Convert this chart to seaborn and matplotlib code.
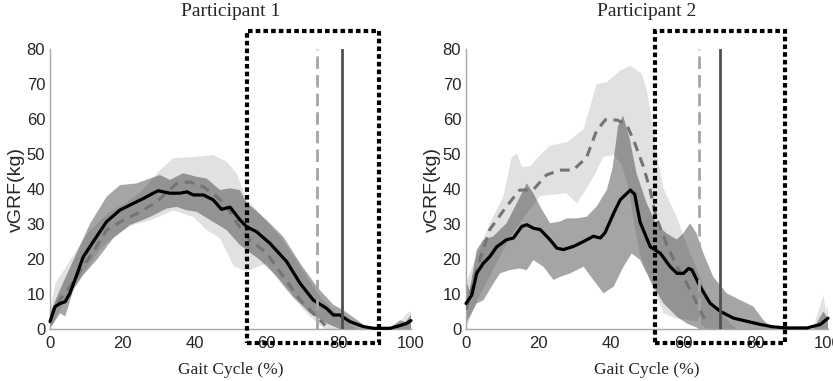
import numpy as np
import matplotlib
matplotlib.use("Agg")
import matplotlib.pyplot as plt
import matplotlib.patches as mpatches
import seaborn as sns

# ---- Participant 1 ----
p1_mean_x = [0, 1.4, 2.8, 4.2, 5.5, 7.4, 9.2, 12, 15.7, 19.4, 23.1, 25.9, 28.6, 30, 33.2, 36, 37.9,
             39.7, 42.5, 45.2, 47.5, 49.9, 52.6, 54.5, 57.2, 60.9, 65.6, 69.3, 72.9, 76.6, 78.5,
             80.3, 83.1, 86.8, 89.6, 94.2, 97, 98.8, 100]
p1_mean_y = [2.1, 6.4, 7.3, 7.8, 10.2, 15.4, 20.6, 25, 30.7, 34, 35.9, 37.3, 38.8, 39.5, 38.8, 38.8, 39.2,
             38.3, 38.3, 36.9, 34.2, 34.8, 31.2, 29.2, 27.8, 24.5, 19.2, 13, 8.3, 5.9, 4.0,
             4.0, 2.1, 0.7, 0.2, 0.2, 1.0, 1.6, 2.4]
p1_ref_x = [0, 2.8, 5.5, 9.2, 12, 15.7, 20.3, 24.9, 29.5, 35.1, 38.8, 42.5, 46, 49, 51, 53, 55.4,
            60, 64.6, 69.3, 72.9, 75.7, 76.2]
p1_ref_y = [3, 8.5, 12, 18, 22, 28.3, 31.1, 33.4, 36.3, 41.6, 42, 40.6, 38, 35, 31.5, 28.5, 25.4,
            21.7, 15, 8.3, 4.5, 1.6, 1.0]
p1_sd_hi_x = [0, 2.8, 6.5, 11.1, 15.7, 19.4, 24, 27.7, 30.5, 33.2, 36.9, 40.6, 43.4, 47.1, 49.9,
              52.6, 54.5, 56.3, 60, 64.6, 69.3, 73.9, 78.5, 81.2, 85, 87.7, 89, 94, 97, 98.5, 100]
p1_sd_hi_y = [4.5, 11.3, 19.7, 30.1, 37.8, 41.1, 41.6, 43, 44, 42.6, 44.5, 43.5, 43, 39.7, 40.2,
              39.7, 36, 34.5, 31.1, 26.4, 18.8, 12.1, 6.9, 5.4, 2.6, 0.6, 0.2, 0.3, 2.5, 2, 4]
p1_sd_lo_x = [0, 2.8, 4.2, 6.5, 9.2, 12.9, 17.5, 22.2, 27.7, 32.3, 35.1, 37.9, 40.6, 45.2, 48.9,
              52.6, 58.2, 62.8, 67.4, 72, 76.6, 80.3, 100]
p1_sd_lo_y = [0, 4.5, 3.6, 11.2, 15.4, 19.7, 25.9, 29.7, 32, 34.4, 34.9, 33.9, 33.5, 30.6, 28.3,
              24, 19.7, 15, 9.2, 4.5, 1.6, 0, 0]
p1_ref_hi_x = [0, 1.5, 4, 7, 11, 16, 21, 25, 28, 30.5, 34.2, 40.6, 45.2, 48.9, 51.7, 54.5, 57.2,
               64.6, 69.3, 74.8, 80.3, 83, 85, 94, 97, 99, 100]
p1_ref_hi_y = [5, 13, 17, 22, 28, 33, 36, 39, 42.5, 45.4, 48.8, 49.2, 49.7, 47.8, 44.5, 36.9, 34.1,
               25.4, 17.9, 9.2, 3.5, 1.3, 0, 0, 2, 4.5, 5]
p1_ref_lo_x = [0, 3, 6, 10, 14, 18.5, 22.2, 27.7, 34.2, 39.7, 43.4, 47.1, 49.5, 50.8, 54.5, 56,
               60, 64.6, 71.1, 74.8, 76, 100]
p1_ref_lo_y = [0, 6, 11, 17, 23, 27, 29.5, 31, 33.9, 32, 28.3, 25.9, 21, 18, 16.4, 17,
               18.8, 12.1, 4.5, 1.1, 0, 0]

# ---- Participant 2 ----
p2_mean_x = [0, 1.6, 2.95, 4.8, 6.6, 8.5, 11.2, 13.1, 15.4, 16.8, 18.6, 20.5, 23.2, 25.1, 26.9,
             29.7, 32.5, 35.2, 37.1, 38.4, 40.8, 42.6, 45.4, 46.6, 48.1, 50.9, 53.7, 56.4, 58.3,
             60.1, 61.5, 62.4, 64.7, 67.4, 70.3, 73.9, 77.6, 81.3, 84.9, 88.6, 94.2, 97.9, 100]
p2_mean_y = [7.3, 9.7, 15.9, 18.8, 20.7, 23.5, 25.5, 26, 29.3, 29.8, 28.8, 28.4, 25.5, 23.1, 22.7,
             23.6, 25, 26.5, 26, 27.5, 33.1, 36.9, 39.7, 38.5, 30.5, 23.5, 21.6, 17.8, 15.9,
             15.9, 17.3, 16.9, 12.1, 7.4, 5, 3.1, 2.2, 1.3, 0.6, 0.3, 0.3, 1.3, 3.1]
p2_ref_x = [0, 3.2, 6.5, 11.1, 14.8, 18.5, 22.2, 25.9, 29.6, 33.3, 36, 38.5, 41.7, 44.3, 46.3,
            49, 50.8, 52.5, 55.5, 58.3, 61, 63.8, 65.6, 66.6]
p2_ref_y = [5.4, 17.8, 28.3, 34.9, 39.7, 39.7, 44, 45.4, 45.4, 49, 56.5, 59.8, 59.7, 58.5, 54,
            46.4, 40, 32, 24, 17.8, 13, 7.3, 3.5, 1.6]
p2_sd_hi_x = [0, 1, 2.95, 4.8, 7.6, 9.4, 11.2, 14, 16.8, 18.6, 20.5, 23.2, 26, 27.8, 30.6, 33.4,
              36.1, 38.9, 40.5, 42, 43.4, 45.3, 47.1, 49.9, 52.6, 55.4, 58.2, 60, 61.9, 63.7,
              65.6, 68.3, 72, 75.7, 79.4, 82.1, 84.9, 96, 98.7, 100]
p2_sd_hi_y = [14, 11, 22.6, 25.5, 26.5, 28.4, 30.2, 35.9, 41.6, 38.8, 35, 30.2, 30.7, 31.6, 31.6, 32.1,
              35, 39.7, 46, 58, 61, 54, 44.5, 36, 30, 27.3, 25.6, 27.3, 30.2, 27.3,
              21.6, 14.9, 10.2, 8.3, 6.4, 2.6, 0, 0, 5, 3]
p2_sd_lo_x = [0, 2.95, 4.8, 7.6, 9.4, 12, 14.8, 16.8, 18.6, 21.4, 24.2, 26, 28.8, 32.5, 35.2, 38,
              40.8, 43.5, 45.8, 48.1, 51.8, 54.6, 58.3, 61, 64.7, 100]
p2_sd_lo_y = [1.6, 7.3, 8.2, 13, 15.9, 16.8, 17.3, 16.8, 19.7, 17.8, 14, 14.9, 15.9, 17.8, 14, 10.2,
              12.1, 17.8, 21.6, 19.7, 12.1, 7.3, 3.5, 1.6, 0, 0]
p2_ref_hi_x = [0, 3.2, 6.6, 10.3, 12.6, 14, 15.4, 17.7, 20, 23.2, 27.8, 32.5, 36.1, 38.9, 42.6,
               45.4, 48.5, 50, 51, 52.7, 54.6, 58.2, 61, 63.8, 66.6, 70.3, 73, 75, 96, 98.7, 99.5, 100]
p2_ref_hi_y = [13, 21.6, 30.2, 37.8, 49, 50.2, 46.4, 46.4, 49.2, 52.4, 53.3, 57.1, 70, 70.5, 73.8,
               75.2, 73, 68, 62, 50, 40, 32, 24, 17, 9.5, 4.5, 1.6, 0, 0.5, 9.5, 5, 7]
p2_ref_lo_x = [0, 3, 6, 9, 12, 16, 20.5, 23.2, 27.8, 30.6, 32.5, 35.2, 38, 40.8, 43, 45, 46.5, 48,
               51.5, 54.6, 58, 63.8, 66.6, 100]
p2_ref_lo_y = [0, 8, 14, 20, 26, 32, 38, 38.3, 38.8, 35.9, 38.8, 43.5, 49.2, 49.7, 47, 40, 30, 21.6,
               12, 4.5, 3, 2.2, 0, 0]

titles = ["Participant 1", "Participant 2"]
dashed_event = [73.9, 64.5]
solid_event = [81.0, 70.2]
box_left = [54.5, 52.2]
box_right = [91.1, 88.0]
box_bottom = -4.0
box_top = 85.2
x_ticks = [0, 20, 40, 60, 80, 100]
y_ticks = [0, 10, 20, 30, 40, 50, 60, 70, 80]

panels = [
    dict(mx=p1_mean_x, my=p1_mean_y, rx=p1_ref_x, ry=p1_ref_y,
         shx=p1_sd_hi_x, shy=p1_sd_hi_y, slx=p1_sd_lo_x, sly=p1_sd_lo_y,
         rhx=p1_ref_hi_x, rhy=p1_ref_hi_y, rlx=p1_ref_lo_x, rly=p1_ref_lo_y),
    dict(mx=p2_mean_x, my=p2_mean_y, rx=p2_ref_x, ry=p2_ref_y,
         shx=p2_sd_hi_x, shy=p2_sd_hi_y, slx=p2_sd_lo_x, sly=p2_sd_lo_y,
         rhx=p2_ref_hi_x, rhy=p2_ref_hi_y, rlx=p2_ref_lo_x, rly=p2_ref_lo_y),
]

sns.set_theme(style="white")
plt.rcParams["font.family"] = ["Liberation Sans", "DejaVu Sans"]

fig = plt.figure(figsize=(8.33, 3.81), dpi=100)
axes = [fig.add_axes([50 / 833, 52 / 381, 361 / 833, 280 / 381]),
        fig.add_axes([466 / 833, 52 / 381, 362 / 833, 280 / 381])]

for i, ax in enumerate(axes):
    d = panels[i]
    # reference band (light) then participant band (dark)
    ax.fill(np.r_[d["rhx"], d["rlx"][::-1]], np.r_[d["rhy"], d["rly"][::-1]],
            color="#e1e1e1", lw=0, zorder=1)
    ax.fill(np.r_[d["shx"], d["slx"][::-1]], np.r_[d["shy"], d["sly"][::-1]],
            color="#1e1e1e", alpha=0.4, lw=0, zorder=2)

    sns.lineplot(x=d["rx"], y=d["ry"], ax=ax, color="#747474", linewidth=2.2,
                 linestyle=(0, (3.2, 2.2)), estimator=None, sort=False, zorder=3)
    sns.lineplot(x=d["mx"], y=d["my"], ax=ax, color="black", linewidth=2.3,
                 estimator=None, sort=False, zorder=4, clip_on=False)

    ax.plot([dashed_event[i]] * 2, [0, 80], color="#a5a5a5", lw=2.0,
            linestyle=(0, (4.5, 2.2)), zorder=5)
    ax.plot([solid_event[i]] * 2, [0, 80], color="#505050", lw=2.0, zorder=5)

    rect = mpatches.Rectangle((box_left[i], box_bottom), box_right[i] - box_left[i],
                              box_top - box_bottom, fill=False, edgecolor="black",
                              lw=3.0, linestyle=(0, (1.1, 0.75)), clip_on=False, zorder=6)
    ax.add_patch(rect)

    ax.set_xlim(0, 100)
    ax.set_ylim(0, 80)
    ax.set_xticks(x_ticks)
    ax.set_yticks(y_ticks)
    ax.tick_params(direction="in", length=3, width=0.8, color="#a0a0a0",
                   labelsize=12)
    ax.tick_params(axis="x", pad=5)
    ax.tick_params(axis="y", pad=3.5)
    for s in ["top", "right"]:
        ax.spines[s].set_visible(False)
    for s in ["left", "bottom"]:
        ax.spines[s].set_color("#a8a8a8")
        ax.spines[s].set_linewidth(1.0)

    ax.set_title(titles[i], family="Liberation Serif", fontsize=14, pad=24)
    ax.set_xlabel("Gait Cycle (%)", family="Liberation Serif", fontsize=12.5, labelpad=8)
    ax.set_ylabel("vGRF(kg)", fontsize=14, labelpad=1)

fig.savefig("out.png", dpi=100)
